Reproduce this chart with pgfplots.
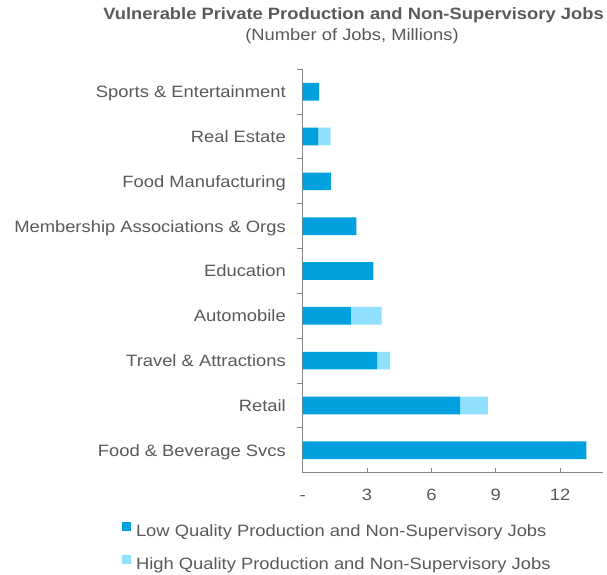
\documentclass[border=0pt]{standalone}
\usepackage{pgfplots}
\pgfplotsset{compat=1.18}
\usepackage{fontspec}
\setmainfont{Liberation Sans}[FakeStretch=1.12]

\definecolor{lowq}{HTML}{00A1DE}
\definecolor{highq}{HTML}{8FE1FF}
\definecolor{txt}{HTML}{595959}
\definecolor{axgray}{HTML}{868686}
\newcommand\chartfont{\fontsize{16.4bp}{19bp}\selectfont}

\begin{document}
\begin{tikzpicture}
\useasboundingbox (0,0) rectangle (607bp,575bp);
% title block
\node[anchor=base, text=txt, font=\chartfont\bfseries, inner sep=0pt]
  at (353.5bp,555bp) {Vulnerable Private Production and Non-Supervisory Jobs};
\node[anchor=base, text=txt, font=\chartfont, inner sep=0pt]
  at (352bp,534.3bp) {(Number of Jobs, Millions)};
\begin{axis}[
  at={(302.7bp,102.3bp)}, anchor=south west,
  scale only axis, width=300.3bp, height=403.4bp,
  xbar stacked, bar width=17.7bp,
  xmin=0, xmax=14, ymin=-0.5, ymax=8.5,
  axis x line*=bottom, axis y line*=left,
  axis line style={axgray, line width=1bp},
  xtick={0,3,6,9,12}, xticklabels={{-\hspace{10bp}},3,6,9,12},
  ytick={0,...,8},
  yticklabels={Food \& Beverage Svcs, Retail, Travel \& Attractions, Automobile,
    Education, Membership Associations \& Orgs, Food Manufacturing,
    Real Estate, Sports \& Entertainment},
  tick align=inside, major tick length=5bp,
  tick style={axgray, line width=1bp},
  ytick style={draw=none},
  extra y ticks={0.5,1.5,...,8.5}, extra y tick labels={},
  extra y tick style={tick align=outside, major tick length=6bp,
    ytick style={draw=axgray}},
  xticklabel style={text=txt, font=\chartfont, inner sep=0pt, anchor=north,
    text height=11.7bp, yshift=-16bp},
  yticklabel style={text=txt, font=\chartfont, inner sep=0pt, anchor=east,
    text height=11.7bp, text depth=0pt, xshift=-16.7bp},
  legend style={at={(-0.6017,-0.1230)}, anchor=north west, draw=none,
    fill=none, inner sep=0pt, outer sep=0pt, row sep=15bp, column sep=5.5bp,
    font=\chartfont, text=txt,
    nodes={inner sep=0pt, text height=11.7bp, text depth=3.5bp}},
  legend cell align=left,
  legend image code/.code={\fill[#1] (0bp,1.85bp) rectangle (8.5bp,10.35bp);},
]
% low quality (dark)
\addplot[fill=lowq, draw=none] coordinates {
  (13.23,0) (7.34,1) (3.47,2) (2.25,3) (3.29,4) (2.50,5) (1.31,6) (0.73,7) (0.76,8)};
\addlegendentry{Low Quality Production and Non-Supervisory Jobs}
% high quality (light)
\addplot[fill=highq, draw=none] coordinates {
  (0,0) (1.29,1) (0.60,2) (1.43,3) (0,4) (0,5) (0,6) (0.57,7) (0,8)};
\addlegendentry{High Quality Production and Non-Supervisory Jobs}
\end{axis}
\end{tikzpicture}
\end{document}
